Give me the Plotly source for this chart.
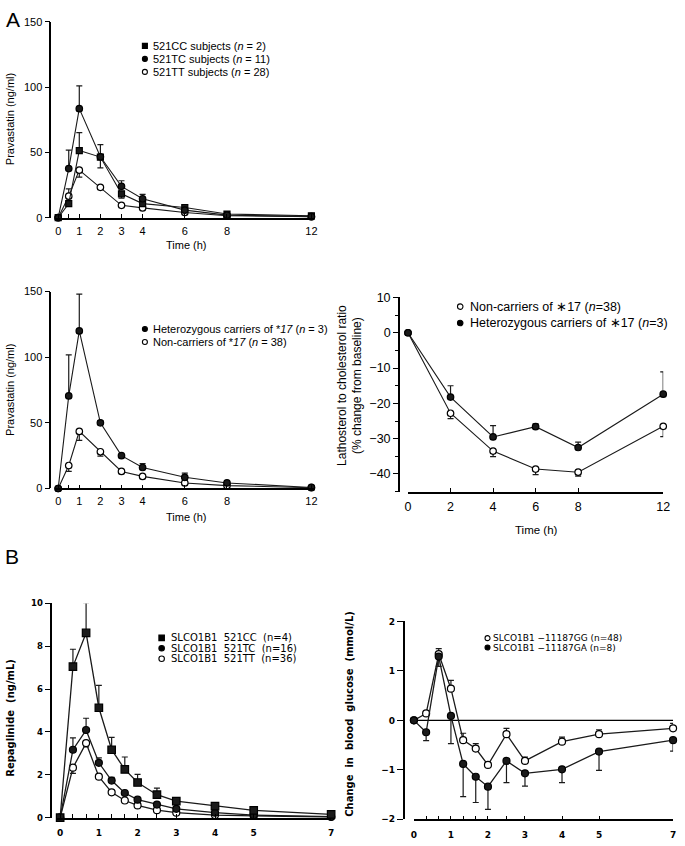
import plotly.graph_objects as go

W, H = 685, 846


def px(x):
    return x / W


def py(y):
    return 1 - y / H


# ---------------- data ----------------
# Panel A (top): pravastatin by 521T>C genotype
time_a1 = [0, 0.5, 1, 2, 3, 4, 6, 8, 12]
a1_cc = [0, 10.8, 51.4, 46.4, 18.3, 10.8, 7.8, 2.8, 1.5]
a1_cc_up = [0, 0, 13.8, 9.6, 0, 0, 0, 0, 0]
a1_cc_dn = [0, 0, 0, 0, 3.3, 0, 0, 0, 0]
a1_tc = [0, 37.6, 83.5, 46.6, 24.0, 14.5, 5.8, 2.0, 0.8]
a1_tc_up = [0, 14.1, 17.5, 0, 4.3, 3.3, 0, 0, 0]
a1_tc_dn = [0, 0, 0, 8.5, 0, 0, 0, 0, 0]
a1_tt = [0, 16.5, 36.4, 23.3, 9.5, 7.5, 4.0, 1.5, 0.8]
a1_tt_up = [0, 5.5, 0, 0, 0, 0, 0, 0, 0]
a1_tt_dn = [0, 0, 5.4, 1.5, 0, 0, 0, 0, 0]
a1_names = ["521CC subjects (<i>n</i> = 2)",
            "521TC subjects (<i>n</i> = 11)",
            "521TT subjects (<i>n</i> = 28)"]
a1_xticks = [0, 0.5, 1, 2, 3, 4, 6, 8, 12]
a1_xlabels = ["0", "", "1", "2", "3", "4", "6", "8", "12"]

# Panel A (middle left): pravastatin by *17 carrier status
a2_het = [0, 70.5, 120, 50, 25, 16, 8.5, 4.2, 0.8]
a2_het_up = [0, 31.2, 28, 1.7, 0, 3, 3.2, 0, 0]
a2_non = [0, 17.5, 43.5, 28, 13, 9.2, 4.2, 2.2, 0.6]
a2_non_dn = [0, 4.5, 6.8, 3.3, 0, 0, 0, 0, 0]
a2_names = ["Heterozygous carriers of *<i>17</i> (<i>n</i> = 3)",
            "Non-carriers of *<i>17</i> (<i>n</i> = 38)"]

# Panel A (middle right): lathosterol to cholesterol ratio
time_a3 = [0, 2, 4, 6, 8, 12]
a3_non = [0, -22.8, -33.5, -38.6, -39.5, -26.5]
a3_non_dn = [0, 1.5, 1.6, 1.6, 1.1, 2.9]
a3_het = [0, -18.2, -29.5, -26.6, -32.5, -17.4]
a3_het_up = [0, 3.2, 3.2, 0.8, 1.5, 6.3]
a3_names = ["Non-carriers of \u221717 (<i>n</i>=38)",
            "Heterozygous carriers of \u221717 (<i>n</i>=3)"]

# Panel B (left): repaglinide
time_b = [0, 0.33, 0.67, 1, 1.33, 1.67, 2, 2.5, 3, 4, 5, 7]
b1_cc = [0, 7.05, 8.62, 5.13, 3.17, 2.25, 1.64, 1.07, 0.77, 0.54, 0.34, 0.15]
b1_cc_up = [0, 0.81, 1.41, 1.04, 0.58, 0.58, 0.38, 0.31, 0.15, 0, 0, 0]
b1_tc = [0, 3.17, 4.09, 2.56, 1.73, 1.15, 0.84, 0.61, 0.41, 0.23, 0.12, 0.05]
b1_tc_up = [0, 0.55, 0.55, 0.23, 0.15, 0, 0, 0, 0, 0, 0, 0]
b1_tt = [0, 2.33, 3.48, 1.91, 1.18, 0.80, 0.57, 0.35, 0.23, 0.12, 0.08, 0.03]
b1_tt_dn = [0, 0.26, 0.18, 0, 0, 0, 0, 0, 0, 0, 0, 0]
NB = "\u00a0"
b1_names = [f"SLCO1B1{NB}{NB}521CC{NB}{NB}(n=4)",
            f"SLCO1B1{NB}{NB}521TC{NB}{NB}(n=16)",
            f"SLCO1B1{NB}{NB}521TT{NB}{NB}(n=36)"]
b_xlabels = ["0", "", "", "1", "", "", "2", "", "3", "4", "5", "7"]

# Panel B (right): change in blood glucose
b2_gg = [0, 0.14, 1.34, 0.64, -0.40, -0.57, -0.90, -0.28, -0.82, -0.43, -0.28, -0.16]
b2_gg_up = [0, 0, 0.11, 0.17, 0.14, 0.10, 0, 0.12, 0.08, 0.09, 0.09, 0.10]
b2_ga = [0, -0.24, 1.29, 0.09, -0.88, -1.14, -1.34, -0.82, -1.07, -0.99, -0.63, -0.40]
b2_ga_dn = [0, 0.17, 0.20, 0.56, 0.66, 0.52, 0.46, 0.44, 0.26, 0.27, 0.38, 0.22]
b2_names = ["SLCO1B1 \u221211187GG (n=48)",
            "SLCO1B1 \u221211187GA (n=8)"]

# ---------------- figure ----------------
fig = go.Figure()
LINE = "#1a1a1a"
FA = "Liberation Sans, Arial, sans-serif"
FB = "DejaVu Sans, sans-serif"

STYLE = {
    "square": dict(symbol="square", color=LINE),
    "disc": dict(symbol="circle", color=LINE),
    "ring": dict(symbol="circle", color="white"),
}


def series(x, y, n, kind, up=None, dn=None, size=6.5, lw=1.1):
    m = len(y)
    err = dict(type="data", symmetric=False,
               array=up if up is not None else [0] * m,
               arrayminus=dn if dn is not None else [0] * m,
               color=LINE, thickness=1.2, width=3)
    st = STYLE[kind]
    fig.add_trace(go.Scatter(
        x=x, y=y, xaxis="x" + n, yaxis="y" + n, mode="lines+markers",
        line=dict(color=LINE, width=lw),
        marker=dict(symbol=st["symbol"], size=size, color=st["color"],
                    line=dict(color="black", width=1.2)),
        error_y=err, cliponaxis=False, showlegend=False))


series(time_a1, a1_tt, "", "ring", a1_tt_up, a1_tt_dn)
series(time_a1, a1_cc, "", "square", a1_cc_up, a1_cc_dn, size=6)
series(time_a1, a1_tc, "", "disc", a1_tc_up, a1_tc_dn)

series(time_a1, a2_non, "2", "ring", None, a2_non_dn)
series(time_a1, a2_het, "2", "disc", a2_het_up, None)

series(time_a3, a3_non, "3", "ring", None, a3_non_dn)
series(time_a3, a3_het, "3", "disc", a3_het_up, None)

series(time_b, b1_tt, "4", "ring", None, b1_tt_dn, size=7, lw=1.3)
series(time_b, b1_tc, "4", "disc", b1_tc_up, None, size=7, lw=1.3)
series(time_b, b1_cc, "4", "square", b1_cc_up, None, size=7.5, lw=1.3)

series(time_b, b2_gg, "5", "ring", b2_gg_up, None, size=7, lw=1.3)
series(time_b, b2_ga, "5", "disc", None, b2_ga_dn, size=7, lw=1.3)


def xax(dom, rng, anchor, tv, tt, font, size, standoff, bold=False):
    return dict(domain=[px(dom[0]), px(dom[1])], range=rng, anchor=anchor,
                tickmode="array", tickvals=tv, ticktext=tt, ticks="inside",
                ticklen=4, tickwidth=1.2, tickcolor="black", showline=True,
                linewidth=1.5, linecolor="black", showgrid=False, zeroline=False,
                tickfont=dict(family=font, size=size, color="black",
                              weight="bold" if bold else "normal"),
                ticklabelstandoff=standoff)


def yax(dom, rng, pos, tv, font, size, ticklen=5, bold=False):
    return dict(domain=[py(dom[0]), py(dom[1])], range=rng, anchor="free",
                position=px(pos), tickmode="array", tickvals=tv, ticks="outside",
                ticklen=ticklen, tickwidth=1.2, tickcolor="black", showline=True,
                linewidth=1.5, linecolor="black", showgrid=False, zeroline=False,
                tickfont=dict(family=font, size=size, color="black",
                              weight="bold" if bold else "normal"))


b_ticks = time_b
fig.update_layout(
    width=W, height=H, margin=dict(l=0, r=0, t=0, b=0),
    paper_bgcolor="white", plot_bgcolor="white",
    xaxis=xax((52.8, 315.1), [-0.15, 12.1], "y", a1_xticks, a1_xlabels, FA, 11, 2),
    yaxis=yax((214, 15), [0, 150], 48, [0, 50, 100, 150], FA, 11),
    xaxis2=xax((52.8, 315.1), [-0.15, 12.1], "y2", a1_xticks, a1_xlabels, FA, 11, 2),
    yaxis2=yax((489, 289), [0, 150], 48, [0, 50, 100, 150], FA, 11),
    xaxis3=xax((411, 670), [0, 12], "y3", [0, 2, 4, 6, 8, 12],
               ["0", "2", "4", "6", "8", "12"], FA, 12.5, 3),
    yaxis3=yax((492.2, 295), [-45, 10], 401.7, [-40, -30, -20, -10, 0, 10], FA, 12.5),
    xaxis4=xax((54.07, 333), [-0.1, 7], "y4", b_ticks, b_xlabels, FB, 9, 6, bold=True),
    yaxis4=yax((823.3, 605.7), [0, 10], 49, [0, 2, 4, 6, 8, 10], FB, 8.5, 6, bold=True),
    xaxis5=xax((417, 680), [0, 7], "y5", b_ticks, b_xlabels, FB, 9, 6, bold=True),
    yaxis5=yax((825, 624), [-2, 2], 406.5, [-2, -1, 0, 1, 2], FB, 9, 6, bold=True),
)
fig.layout.yaxis3.minor = dict(tickmode="linear", tick0=0, dtick=5, ticks="outside",
                               ticklen=3, tickcolor="black", tickwidth=1.2)

# zero reference line in the glucose panel
fig.add_shape(type="line", xref="x5", yref="y5", x0=min(time_b), x1=max(time_b),
              y0=0, y1=0, line=dict(color="black", width=1.3), layer="below")

ann = []


def text(x, y, s, font, size, angle=0, xanchor="center", bold=False):
    ann.append(dict(x=px(x), y=py(y), xref="paper", yref="paper", text=s,
                    showarrow=False, textangle=angle, xanchor=xanchor,
                    yanchor="middle",
                    font=dict(family=font, size=size, color="black",
                              weight="bold" if bold else "normal")))


def symbol(x, y, kind, s):
    shp = dict(xref="paper", yref="paper", xsizemode="pixel", ysizemode="pixel",
               xanchor=px(x), yanchor=py(y), x0=-s / 2, x1=s / 2, y0=-s / 2, y1=s / 2,
               line=dict(color="black", width=1.1))
    if kind == "square":
        shp.update(type="rect", fillcolor="black")
    elif kind == "disc":
        shp.update(type="circle", fillcolor="black")
    else:
        shp.update(type="circle", fillcolor="white")
    fig.add_shape(**shp)


def legend(names, kinds, sx, tx, y0, dy, font, size, ssize):
    for i, (nm, kd) in enumerate(zip(names, kinds)):
        yy = y0 + i * dy
        symbol(sx, yy, kd, ssize)
        text(tx, yy, nm, font, size, xanchor="left")


legend(a1_names, ["square", "disc", "ring"], 144, 150, 39.5, 13.2, FA, 11, 5)
legend(a2_names, ["disc", "ring"], 144, 150, 327, 13.2, FA, 11, 5)
legend(a3_names, ["ring", "disc"], 464, 472, 304.3, 16.7, FA, 12.5, 5.5)
legend(b1_names, ["square", "disc", "ring"], 161, 168, 640.7, 10.6, FB, 10, 5.5)
legend(b2_names, ["ring", "disc"], 491.7, 495.5, 641, 9.5, FB, 9, 5)

# axis titles
text(7, 114, "Pravastatin (ng/ml)", FA, 11, angle=-90)
text(186, 242, "Time (h)", FA, 11)
text(7, 389, "Pravastatin (ng/ml)", FA, 11, angle=-90)
text(186, 518, "Time (h)", FA, 11)
text(352, 384, "Lathosterol to cholesterol ratio<br>(% change from baseline)", FA, 12, angle=-90)
text(541.7, 531, "Time (h)", FA, 11.5)
text(8, 722, f"Repaglinide{NB}{NB}(ng/mL)", FB, 10, angle=-90, bold=True)
text(352, 718, f"Change{NB}{NB}in{NB}{NB}blood{NB}{NB}glucose{NB}{NB}(mmol/L)", FB, 10,
     angle=-90, bold=True)

# panel letters
text(10, 13, "A", FA, 21)
text(9, 558, "B", FA, 21)

fig.update_layout(annotations=ann)

fig.write_html("out.html", config={"displayModeBar": False},
               post_script="document.body.style.margin='0';")
